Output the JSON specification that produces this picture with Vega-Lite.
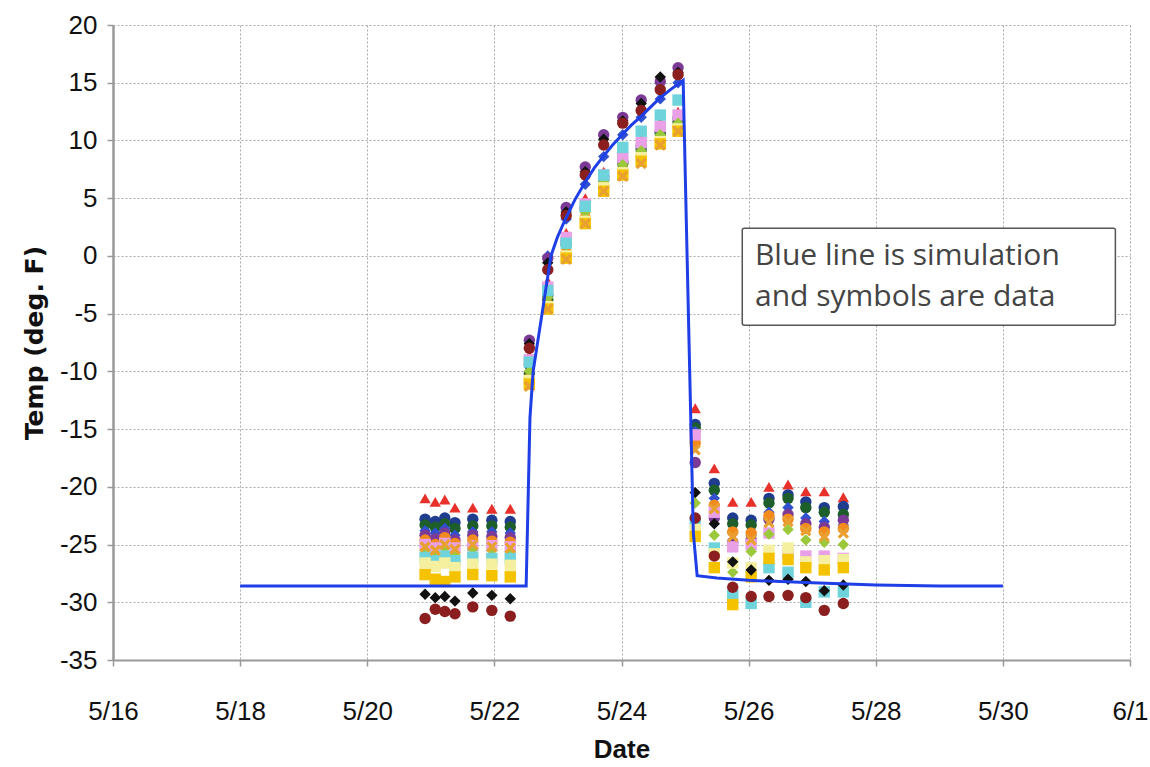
{
  "$schema": "https://vega.github.io/schema/vega-lite/v6.json",
  "width": 1017,
  "height": 635,
  "autosize": "none",
  "padding": {"left": 113, "top": 25, "right": 20, "bottom": 107},
  "background": "white",
  "config": {"view": {"stroke": null}},
  "datasets": {
    "sim": [
      {"d": 18.0, "v": -28.6}, {"d": 22.5, "v": -28.6}, {"d": 22.56, "v": -14.0}, {"d": 22.61, "v": -10.0},
      {"d": 22.75, "v": -5.0}, {"d": 22.89, "v": 0.0}, {"d": 22.99, "v": 1.6}, {"d": 23.11, "v": 3.1},
      {"d": 23.27, "v": 4.9}, {"d": 23.43, "v": 6.4}, {"d": 23.57, "v": 7.6}, {"d": 23.71, "v": 8.6},
      {"d": 23.86, "v": 9.6}, {"d": 24.01, "v": 10.5}, {"d": 24.15, "v": 11.3}, {"d": 24.29, "v": 12.0},
      {"d": 24.44, "v": 12.8}, {"d": 24.59, "v": 13.6}, {"d": 24.77, "v": 14.4}, {"d": 24.97, "v": 15.2},
      {"d": 25.13, "v": -24.0}, {"d": 25.19, "v": -27.7}, {"d": 25.5, "v": -27.9}, {"d": 26.0, "v": -28.1},
      {"d": 27.0, "v": -28.3}, {"d": 28.0, "v": -28.5}, {"d": 29.0, "v": -28.6}, {"d": 30.0, "v": -28.6}
    ],
    "note": [
      {"x": 25.9, "x2": 31.77, "y": 2.4, "y2": -6.0}
    ],
    "notetext": [
      {"x": 26.1, "y": 0.0, "t": "Blue line is simulation"},
      {"x": 26.1, "y": -3.56, "t": "and symbols are data"}
    ],
    "obs": [
      {"s":"A","d":20.91,"v":-21.0},{"s":"A","d":21.07,"v":-21.3},{"s":"A","d":21.22,"v":-21.1},{"s":"A","d":21.38,"v":-21.8},{"s":"A","d":21.66,"v":-21.8},{"s":"A","d":21.96,"v":-21.9},{"s":"A","d":22.25,"v":-21.9},
      {"s":"A","d":22.55,"v":-8.6},{"s":"A","d":22.84,"v":-2.2},{"s":"A","d":23.13,"v":2.0},{"s":"A","d":23.43,"v":5.0},{"s":"A","d":23.72,"v":7.3},{"s":"A","d":24.02,"v":8.9},{"s":"A","d":24.31,"v":10.1},{"s":"A","d":24.61,"v":11.6},{"s":"A","d":24.89,"v":12.5},
      {"s":"A","d":25.16,"v":-13.2},{"s":"A","d":25.46,"v":-18.4},{"s":"A","d":25.75,"v":-21.3},{"s":"A","d":26.04,"v":-21.3},{"s":"A","d":26.32,"v":-20.0},{"s":"A","d":26.62,"v":-19.8},{"s":"A","d":26.90,"v":-20.4},{"s":"A","d":27.19,"v":-20.4},{"s":"A","d":27.49,"v":-20.9},

      {"s":"B","d":20.91,"v":-22.8},{"s":"B","d":21.07,"v":-23.0},{"s":"B","d":21.22,"v":-22.7},{"s":"B","d":21.38,"v":-23.1},{"s":"B","d":21.66,"v":-22.8},{"s":"B","d":21.96,"v":-22.9},{"s":"B","d":22.25,"v":-23.0},
      {"s":"B","d":22.55,"v":-9.4},{"s":"B","d":22.84,"v":-3.4},{"s":"B","d":23.13,"v":1.3},{"s":"B","d":23.43,"v":4.2},{"s":"B","d":23.72,"v":6.9},{"s":"B","d":24.02,"v":8.2},{"s":"B","d":24.31,"v":9.5},{"s":"B","d":24.61,"v":10.8},{"s":"B","d":24.89,"v":11.9},
      {"s":"B","d":25.16,"v":-14.6},{"s":"B","d":25.46,"v":-19.7},{"s":"B","d":25.75,"v":-22.7},{"s":"B","d":26.04,"v":-22.9},{"s":"B","d":26.32,"v":-21.0},{"s":"B","d":26.62,"v":-20.7},{"s":"B","d":26.90,"v":-21.3},{"s":"B","d":27.19,"v":-21.8},{"s":"B","d":27.49,"v":-21.7},

      {"s":"C","d":20.91,"v":-23.3},{"s":"C","d":21.07,"v":-23.5},{"s":"C","d":21.22,"v":-23.2},{"s":"C","d":21.38,"v":-23.6},{"s":"C","d":21.66,"v":-23.4},{"s":"C","d":21.96,"v":-23.4},{"s":"C","d":22.25,"v":-23.5},
      {"s":"C","d":22.55,"v":-10.2},{"s":"C","d":22.84,"v":-3.8},{"s":"C","d":23.13,"v":1.0},{"s":"C","d":23.43,"v":4.0},{"s":"C","d":23.72,"v":6.6},{"s":"C","d":24.02,"v":8.0},{"s":"C","d":24.31,"v":9.2},{"s":"C","d":24.61,"v":10.6},{"s":"C","d":24.89,"v":11.6},
      {"s":"C","d":25.16,"v":-14.9},{"s":"C","d":25.46,"v":-20.3},{"s":"C","d":25.75,"v":-23.2},{"s":"C","d":26.04,"v":-23.3},{"s":"C","d":26.32,"v":-21.4},{"s":"C","d":26.62,"v":-21.0},{"s":"C","d":26.90,"v":-21.8},{"s":"C","d":27.19,"v":-22.2},{"s":"C","d":27.49,"v":-22.4},

      {"s":"D","d":20.91,"v":-23.8},{"s":"D","d":21.07,"v":-24.0},{"s":"D","d":21.22,"v":-23.6},{"s":"D","d":21.38,"v":-24.2},{"s":"D","d":21.66,"v":-23.9},{"s":"D","d":21.96,"v":-23.9},{"s":"D","d":22.25,"v":-24.0},
      {"s":"D","d":22.55,"v":-7.9},{"s":"D","d":22.84,"v":0.0},{"s":"D","d":23.13,"v":3.2},{"s":"D","d":23.43,"v":6.2},{"s":"D","d":23.72,"v":8.6},{"s":"D","d":24.02,"v":10.5},{"s":"D","d":24.31,"v":12.0},{"s":"D","d":24.61,"v":13.6},{"s":"D","d":24.89,"v":15.0},
      {"s":"D","d":25.16,"v":-15.2},{"s":"D","d":25.46,"v":-21.0},{"s":"D","d":25.75,"v":-24.0},{"s":"D","d":26.04,"v":-24.2},{"s":"D","d":26.32,"v":-22.2},{"s":"D","d":26.62,"v":-21.8},{"s":"D","d":26.90,"v":-22.7},{"s":"D","d":27.19,"v":-23.0},{"s":"D","d":27.49,"v":-23.3},

      {"s":"E","d":20.91,"v":-24.2},{"s":"E","d":21.07,"v":-24.5},{"s":"E","d":21.22,"v":-24.0},{"s":"E","d":21.38,"v":-24.6},{"s":"E","d":21.66,"v":-24.2},{"s":"E","d":21.96,"v":-24.3},{"s":"E","d":22.25,"v":-24.4},
      {"s":"E","d":22.55,"v":-7.3},{"s":"E","d":22.84,"v":-0.2},{"s":"E","d":23.13,"v":4.2},{"s":"E","d":23.43,"v":7.7},{"s":"E","d":23.72,"v":10.5},{"s":"E","d":24.02,"v":12.0},{"s":"E","d":24.31,"v":13.5},{"s":"E","d":24.61,"v":15.1},{"s":"E","d":24.89,"v":16.3},
      {"s":"E","d":25.16,"v":-17.9},{"s":"E","d":25.46,"v":-22.7},{"s":"E","d":25.75,"v":-24.8},{"s":"E","d":26.04,"v":-24.6},{"s":"E","d":26.32,"v":-22.8},{"s":"E","d":26.62,"v":-22.4},{"s":"E","d":26.90,"v":-23.2},{"s":"E","d":27.19,"v":-23.5},{"s":"E","d":27.49,"v":-22.9},

      {"s":"F","d":20.91,"v":-24.6},{"s":"F","d":21.07,"v":-25.0},{"s":"F","d":21.22,"v":-24.4},{"s":"F","d":21.38,"v":-24.9},{"s":"F","d":21.66,"v":-24.6},{"s":"F","d":21.96,"v":-24.7},{"s":"F","d":22.25,"v":-24.8},
      {"s":"F","d":22.55,"v":-10.6},{"s":"F","d":22.84,"v":-4.2},{"s":"F","d":23.13,"v":0.3},{"s":"F","d":23.43,"v":3.3},{"s":"F","d":23.72,"v":6.1},{"s":"F","d":24.02,"v":7.4},{"s":"F","d":24.31,"v":8.7},{"s":"F","d":24.61,"v":10.1},{"s":"F","d":24.89,"v":11.2},
      {"s":"F","d":25.16,"v":-16.2},{"s":"F","d":25.46,"v":-21.6},{"s":"F","d":25.75,"v":-23.9},{"s":"F","d":26.04,"v":-24.0},{"s":"F","d":26.32,"v":-22.5},{"s":"F","d":26.62,"v":-22.8},{"s":"F","d":26.90,"v":-23.6},{"s":"F","d":27.19,"v":-23.9},{"s":"F","d":27.49,"v":-23.6},

      {"s":"G","d":20.91,"v":-25.0},{"s":"G","d":21.07,"v":-25.3},{"s":"G","d":21.22,"v":-24.9},{"s":"G","d":21.38,"v":-25.3},{"s":"G","d":21.66,"v":-25.1},{"s":"G","d":21.96,"v":-25.1},{"s":"G","d":22.25,"v":-25.2},
      {"s":"G","d":22.55,"v":-9.0},{"s":"G","d":22.84,"v":-2.7},{"s":"G","d":23.13,"v":1.6},{"s":"G","d":23.43,"v":4.5},{"s":"G","d":23.72,"v":7.0},{"s":"G","d":24.02,"v":8.5},{"s":"G","d":24.31,"v":9.8},{"s":"G","d":24.61,"v":11.2},{"s":"G","d":24.89,"v":12.2},
      {"s":"G","d":25.16,"v":-15.5},{"s":"G","d":25.46,"v":-22.2},{"s":"G","d":25.75,"v":-25.2},{"s":"G","d":26.04,"v":-25.0},{"s":"G","d":26.32,"v":-24.0},{"s":"G","d":26.62,"v":-25.8},{"s":"G","d":26.90,"v":-26.0},{"s":"G","d":27.19,"v":-26.0},{"s":"G","d":27.49,"v":-26.2},

      {"s":"H","d":20.91,"v":-25.5},{"s":"H","d":21.07,"v":-25.8},{"s":"H","d":21.22,"v":-25.3},{"s":"H","d":21.38,"v":-25.8},{"s":"H","d":21.66,"v":-25.4},{"s":"H","d":21.96,"v":-25.5},{"s":"H","d":22.25,"v":-25.6},
      {"s":"H","d":22.55,"v":-10.0},{"s":"H","d":22.84,"v":-3.6},{"s":"H","d":23.13,"v":0.9},{"s":"H","d":23.43,"v":3.8},{"s":"H","d":23.72,"v":6.4},{"s":"H","d":24.02,"v":7.9},{"s":"H","d":24.31,"v":9.1},{"s":"H","d":24.61,"v":10.5},{"s":"H","d":24.89,"v":11.5},
      {"s":"H","d":25.16,"v":-21.4},{"s":"H","d":25.46,"v":-24.2},{"s":"H","d":25.75,"v":-27.4},{"s":"H","d":26.04,"v":-25.6},{"s":"H","d":26.32,"v":-24.1},{"s":"H","d":26.62,"v":-23.7},{"s":"H","d":26.90,"v":-24.6},{"s":"H","d":27.19,"v":-24.8},{"s":"H","d":27.49,"v":-25.0},

      {"s":"I","d":20.91,"v":-26.1},{"s":"I","d":21.07,"v":-26.4},{"s":"I","d":21.22,"v":-26.0},{"s":"I","d":21.38,"v":-26.4},{"s":"I","d":21.66,"v":-26.1},{"s":"I","d":21.96,"v":-26.2},{"s":"I","d":22.25,"v":-26.2},
      {"s":"I","d":22.55,"v":-9.2},{"s":"I","d":22.84,"v":-3.0},{"s":"I","d":23.13,"v":1.1},{"s":"I","d":23.43,"v":4.3},{"s":"I","d":23.72,"v":7.0},{"s":"I","d":24.02,"v":9.4},{"s":"I","d":24.31,"v":10.8},{"s":"I","d":24.61,"v":12.2},{"s":"I","d":24.89,"v":13.5},
      {"s":"I","d":25.16,"v":-23.2},{"s":"I","d":25.46,"v":-25.3},{"s":"I","d":25.75,"v":-29.4},{"s":"I","d":26.04,"v":-30.1},{"s":"I","d":26.32,"v":-27.0},{"s":"I","d":26.62,"v":-27.4},{"s":"I","d":26.90,"v":-30.0},{"s":"I","d":27.19,"v":-29.1},{"s":"I","d":27.49,"v":-29.1},

      {"s":"J","d":20.91,"v":-26.6},{"s":"J","d":21.07,"v":-26.9},{"s":"J","d":21.22,"v":-26.6},{"s":"J","d":21.38,"v":-27.0},{"s":"J","d":21.66,"v":-26.7},{"s":"J","d":21.96,"v":-26.7},{"s":"J","d":22.25,"v":-26.8},
      {"s":"J","d":22.55,"v":-10.8},{"s":"J","d":22.84,"v":-4.4},{"s":"J","d":23.13,"v":0.0},{"s":"J","d":23.43,"v":3.0},{"s":"J","d":23.72,"v":5.9},{"s":"J","d":24.02,"v":7.2},{"s":"J","d":24.31,"v":8.5},{"s":"J","d":24.61,"v":9.9},{"s":"J","d":24.89,"v":11.0},
      {"s":"J","d":25.16,"v":-23.7},{"s":"J","d":25.46,"v":-25.8},{"s":"J","d":25.75,"v":-26.6},{"s":"J","d":26.04,"v":-27.0},{"s":"J","d":26.32,"v":-25.5},{"s":"J","d":26.62,"v":-25.3},{"s":"J","d":26.90,"v":-26.5},{"s":"J","d":27.19,"v":-26.4},{"s":"J","d":27.49,"v":-26.3},

      {"s":"K","d":20.91,"v":-27.6},{"s":"K","d":21.07,"v":-28.0},{"s":"K","d":21.22,"v":-28.2},{"s":"K","d":21.38,"v":-27.8},{"s":"K","d":21.66,"v":-27.6},{"s":"K","d":21.96,"v":-27.7},{"s":"K","d":22.25,"v":-27.8},
      {"s":"K","d":22.55,"v":-11.1},{"s":"K","d":22.84,"v":-4.6},{"s":"K","d":23.13,"v":-0.2},{"s":"K","d":23.43,"v":2.8},{"s":"K","d":23.72,"v":5.6},{"s":"K","d":24.02,"v":7.0},{"s":"K","d":24.31,"v":8.2},{"s":"K","d":24.61,"v":9.7},{"s":"K","d":24.89,"v":10.8},
      {"s":"K","d":25.16,"v":-24.3},{"s":"K","d":25.46,"v":-27.0},{"s":"K","d":25.75,"v":-30.2},{"s":"K","d":26.04,"v":-27.8},{"s":"K","d":26.32,"v":-26.2},{"s":"K","d":26.62,"v":-26.3},{"s":"K","d":26.90,"v":-27.0},{"s":"K","d":27.19,"v":-27.2},{"s":"K","d":27.49,"v":-27.0},

      {"s":"M","d":20.91,"v":-29.3},{"s":"M","d":21.07,"v":-29.6},{"s":"M","d":21.22,"v":-29.5},{"s":"M","d":21.38,"v":-29.9},{"s":"M","d":21.66,"v":-29.2},{"s":"M","d":21.96,"v":-29.4},{"s":"M","d":22.25,"v":-29.7},
      {"s":"M","d":22.55,"v":-7.6},{"s":"M","d":22.84,"v":-0.6},{"s":"M","d":23.13,"v":3.8},{"s":"M","d":23.43,"v":7.3},{"s":"M","d":23.72,"v":10.1},{"s":"M","d":24.02,"v":11.7},{"s":"M","d":24.31,"v":13.2},{"s":"M","d":24.61,"v":15.5},{"s":"M","d":24.89,"v":15.9},
      {"s":"M","d":25.16,"v":-20.5},{"s":"M","d":25.46,"v":-23.2},{"s":"M","d":25.75,"v":-26.5},{"s":"M","d":26.04,"v":-27.2},{"s":"M","d":26.32,"v":-28.1},{"s":"M","d":26.62,"v":-28.0},{"s":"M","d":26.90,"v":-28.2},{"s":"M","d":27.19,"v":-29.0},{"s":"M","d":27.49,"v":-28.5},

      {"s":"N","d":20.91,"v":-31.4},{"s":"N","d":21.07,"v":-30.6},{"s":"N","d":21.22,"v":-30.8},{"s":"N","d":21.38,"v":-31.0},{"s":"N","d":21.66,"v":-30.4},{"s":"N","d":21.96,"v":-30.7},{"s":"N","d":22.25,"v":-31.2},
      {"s":"N","d":22.55,"v":-8.0},{"s":"N","d":22.84,"v":-1.2},{"s":"N","d":23.13,"v":3.5},{"s":"N","d":23.43,"v":7.0},{"s":"N","d":23.72,"v":9.6},{"s":"N","d":24.02,"v":11.5},{"s":"N","d":24.31,"v":12.6},{"s":"N","d":24.61,"v":14.4},{"s":"N","d":24.89,"v":15.7},
      {"s":"N","d":25.16,"v":-22.7},{"s":"N","d":25.46,"v":-26.0},{"s":"N","d":25.75,"v":-28.7},{"s":"N","d":26.04,"v":-29.5},{"s":"N","d":26.32,"v":-29.5},{"s":"N","d":26.62,"v":-29.4},{"s":"N","d":26.90,"v":-29.6},{"s":"N","d":27.19,"v":-30.7},{"s":"N","d":27.49,"v":-30.1},

      {"s":"O","d":20.91,"v":-25.2},{"s":"O","d":21.07,"v":-25.5},{"s":"O","d":21.22,"v":-25.0},{"s":"O","d":21.38,"v":-25.4},{"s":"O","d":21.66,"v":-25.0},{"s":"O","d":21.96,"v":-25.2},{"s":"O","d":22.25,"v":-25.3},
      {"s":"O","d":22.55,"v":-11.3},{"s":"O","d":22.84,"v":-4.6},{"s":"O","d":23.13,"v":-0.3},{"s":"O","d":23.43,"v":2.8},{"s":"O","d":23.72,"v":5.6},{"s":"O","d":24.02,"v":6.9},{"s":"O","d":24.31,"v":8.0},{"s":"O","d":24.61,"v":9.6},{"s":"O","d":24.89,"v":10.8},
      {"s":"O","d":25.16,"v":-16.8},{"s":"O","d":25.46,"v":-21.9},{"s":"O","d":25.75,"v":-24.3},{"s":"O","d":26.04,"v":-24.6},{"s":"O","d":26.32,"v":-23.1},{"s":"O","d":26.62,"v":-23.0},{"s":"O","d":26.90,"v":-23.8},{"s":"O","d":27.19,"v":-24.3},{"s":"O","d":27.49,"v":-24.0}
    ]
  },
  "layer": [
    {
      "data": {"name": "obs"},
      "mark": {"type": "point", "filled": true, "size": 130, "opacity": 1},
      "encoding": {
        "x": {
          "field": "d", "type": "quantitative",
          "scale": {"domain": [16, 32], "nice": false, "zero": false},
          "axis": {
            "values": [16, 18, 20, 22, 24, 26, 28, 30, 32],
            "labelExpr": "datum.value > 31 ? '6/' + (datum.value - 31) : '5/' + datum.value",
            "labelFlush": false,
            "grid": true, "gridDash": [2, 2], "gridColor": "#aaaaaa", "gridWidth": 1,
            "domainColor": "#999999", "domainWidth": 2,
            "tickColor": "#999999", "tickSize": 6, "tickWidth": 1.5,
            "labelFont": "Liberation Sans", "labelFontSize": 26, "labelColor": "#111111",
            "labelPadding": 32,
            "title": "Date", "titleFont": "Liberation Sans", "titleFontSize": 26, "titleFontWeight": "bold",
            "titleColor": "#111111", "titlePadding": 12
          }
        },
        "y": {
          "field": "v", "type": "quantitative",
          "scale": {"domain": [-35, 20], "nice": false, "zero": false},
          "axis": {
            "values": [-35, -30, -25, -20, -15, -10, -5, 0, 5, 10, 15, 20],
            "labelExpr": "'' + datum.value",
            "labelFlush": false,
            "grid": true, "gridDash": [2, 2], "gridColor": "#aaaaaa", "gridWidth": 1,
            "domainColor": "#999999", "domainWidth": 2.5,
            "tickColor": "#999999", "tickSize": 6, "tickWidth": 1.5,
            "labelFont": "Liberation Sans", "labelFontSize": 26, "labelColor": "#111111",
            "labelPadding": 10,
            "title": "Temp (deg. F)", "titleFont": "DejaVu Sans", "titleFontSize": 25, "titleFontWeight": "bold",
            "titleColor": "#111111", "titlePadding": 12
          }
        },
        "color": {
          "field": "s", "type": "nominal", "legend": null,
          "scale": {
            "domain": ["A","B","C","D","E","F","G","H","I","J","K","M","N","O"],
            "range": ["#E8312A","#1F3C8F","#1E5E2A","#3050D0","#7B3A96","#F28A1E","#E9A0E6","#9CC83C","#6FD3DC","#F5EFA0","#F5C200","#111111","#8B1E1E","#E8A030"]
          }
        },
        "shape": {
          "field": "s", "type": "nominal", "legend": null,
          "scale": {
            "domain": ["A","B","C","D","E","F","G","H","I","J","K","M","N","O"],
            "range": ["triangle-up","circle","circle","diamond","circle","circle","square","diamond","square","square","square","diamond","circle","M-1,-0.6L-0.6,-1L0,-0.4L0.6,-1L1,-0.6L0.4,0L1,0.6L0.6,1L0,0.4L-0.6,1L-1,0.6L-0.4,0Z"]
          }
        }
      }
    },
    {
      "data": {"name": "sim"},
      "mark": {"type": "line", "color": "#1E3FE6", "strokeWidth": 3},
      "encoding": {
        "x": {"field": "d", "type": "quantitative"},
        "y": {"field": "v", "type": "quantitative"}
      }
    },
    {
      "data": {"name": "note"},
      "mark": {"type": "rect", "fill": "white", "stroke": "#555555", "strokeWidth": 1.5, "cornerRadius": 2},
      "encoding": {
        "x": {"field": "x", "type": "quantitative"},
        "x2": {"field": "x2"},
        "y": {"field": "y", "type": "quantitative"},
        "y2": {"field": "y2"}
      }
    },
    {
      "data": {"name": "notetext"},
      "mark": {"type": "text", "align": "left", "baseline": "middle", "font": "Open Sans", "fontSize": 30, "fontWeight": 400, "color": "#444444"},
      "encoding": {
        "x": {"field": "x", "type": "quantitative"},
        "y": {"field": "y", "type": "quantitative"},
        "text": {"field": "t"}
      }
    }
  ]
}
